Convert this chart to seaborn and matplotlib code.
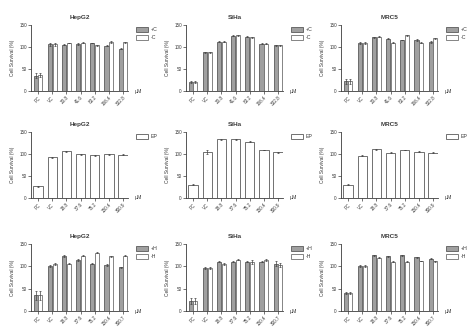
import numpy as np
import pandas as pd
import matplotlib
matplotlib.use("Agg")
import matplotlib.pyplot as plt
from matplotlib.patches import Patch
import seaborn as sns

# Dose labels (µM) for each row of panels
doses_c = ["PC", "VC", "20.8", "41.6", "83.2", "166.4", "332.8"]
doses_ep = ["PC", "VC", "18.8", "37.6", "75.2", "150.4", "300.9"]
doses_h = ["PC", "VC", "18.8", "37.6", "75.2", "150.4", "300.7"]

# Row 1: +C / -C
hepg2_pc = [35, 106, 105, 107, 109, 103, 96]
hepg2_mc = [36, 106, 109, 110, 104, 112, 111]
hepg2_pc_sd = [6, 3, 1, 2, 1, 1, 1]
hepg2_mc_sd = [5, 3, 1, 2, 1, 2, 1]
siha_pc = [20, 88, 112, 126, 123, 107, 104]
siha_mc = [20, 88, 112, 127, 122, 107, 104]
siha_pc_sd = [2, 1, 1, 1, 1, 1, 1]
siha_mc_sd = [2, 1, 1, 1, 1, 1, 1]
mrc5_pc = [22, 109, 122, 119, 116, 116, 112]
mrc5_mc = [22, 109, 123, 110, 127, 110, 120]
mrc5_pc_sd = [5, 2, 1, 1, 1, 2, 2]
mrc5_mc_sd = [5, 2, 1, 1, 1, 1, 1]

# Row 2: EP
hepg2_ep = [27, 93, 106, 99, 97, 99, 98]
hepg2_ep_sd = [1, 1, 1, 1, 1, 1, 1]
siha_ep = [30, 105, 133, 133, 128, 109, 104]
siha_ep_sd = [1, 5, 1, 1, 1, 1, 1]
mrc5_ep = [30, 96, 111, 103, 109, 105, 103]
mrc5_ep_sd = [1, 1, 1, 1, 1, 1, 1]

# Row 3: +H / -H
hepg2_ph = [35, 100, 124, 114, 106, 103, 98]
hepg2_mh = [35, 106, 106, 124, 130, 123, 124]
hepg2_ph_sd = [10, 2, 2, 2, 1, 2, 1]
hepg2_mh_sd = [10, 2, 1, 1, 1, 1, 1]
siha_ph = [22, 97, 110, 110, 110, 110, 106]
siha_mh = [22, 97, 106, 115, 110, 115, 103]
siha_ph_sd = [6, 2, 1, 1, 1, 1, 5]
siha_mh_sd = [6, 2, 2, 1, 4, 2, 4]
mrc5_ph = [40, 101, 125, 123, 125, 120, 117]
mrc5_mh = [40, 101, 119, 110, 110, 112, 111]
mrc5_ph_sd = [2, 3, 1, 1, 1, 1, 1]
mrc5_mh_sd = [2, 3, 1, 1, 1, 1, 1]

sns.set_style("ticks")
plt.rcParams["font.family"] = ["Liberation Sans", "DejaVu Sans"]

GRAY = "#a0a0a0"
WHITE = "#ffffff"
EDGE_DARK = "#5a5a5a"
EDGE_LIGHT = "#707070"
INK = "#3a3a3a"


def panel(ax, doses, series, sds, labels, colors, edges, title):
    rows = []
    for lab, vals in zip(labels, series):
        for d, v in zip(doses, vals):
            rows.append({"dose": d, "group": lab, "survival": v})
    df = pd.DataFrame(rows)
    sns.barplot(data=df, x="dose", y="survival", hue="group",
                order=doses, hue_order=labels,
                palette=dict(zip(labels, colors)),
                width=0.66, gap=0.12 if len(labels) > 1 else 0,
                errorbar=None, legend=False, ax=ax,
                linewidth=0.6)
    for cont, ec, vals, sd in zip(ax.containers, edges, series, sds):
        for bar, v, e in zip(cont, vals, sd):
            bar.set_edgecolor(ec)
            x = bar.get_x() + bar.get_width() / 2
            ax.errorbar(x, v, yerr=e, fmt="none", ecolor="#444444",
                        elinewidth=0.5, capsize=1.0, capthick=0.5, zorder=3)
    ax.set_ylim(0, 150)
    ax.set_xlim(-0.5, 6.35)
    ax.set_yticks([0, 50, 100, 150])
    ax.set_xlabel("")
    ax.set_ylabel("Cell Survival (%)", fontsize=3.5, color=INK, labelpad=3)
    ax.set_title(title, fontsize=4.6, color=INK, fontweight="bold", pad=4)
    ax.tick_params(axis="both", length=2, width=0.5, color=INK,
                   labelsize=3.3, labelcolor=INK, pad=1)
    plt.setp(ax.get_xticklabels(), rotation=45, ha="right",
             rotation_mode="anchor")
    for s in ("top", "right"):
        ax.spines[s].set_visible(False)
    for s in ("left", "bottom"):
        ax.spines[s].set_linewidth(0.6)
        ax.spines[s].set_color(INK)
    ax.text(1.07, 0.0, "µM", transform=ax.transAxes, fontsize=3.8,
            color=INK, va="center", ha="left")
    handles = [Patch(facecolor=c, edgecolor=e, linewidth=0.6, label=l)
               for c, e, l in zip(colors, edges, labels)]
    ax.legend(handles=handles, loc="upper left", bbox_to_anchor=(1.06, 1.0),
              frameon=False, fontsize=3.8, handlelength=2.2,
              handleheight=1.0, handletextpad=0.6, labelspacing=0.5,
              borderaxespad=0, labelcolor=INK)


fig = plt.figure(figsize=(4.74, 3.30), dpi=100)
W, H = 474, 330
lefts = [31, 186, 341]
tops = [25, 132, 244]
bottoms = [91, 198, 311]
aw = 97

panels = [
    [(doses_c, [hepg2_pc, hepg2_mc], [hepg2_pc_sd, hepg2_mc_sd], ["+C", "-C"], "HepG2"),
     (doses_c, [siha_pc, siha_mc], [siha_pc_sd, siha_mc_sd], ["+C", "-C"], "SiHa"),
     (doses_c, [mrc5_pc, mrc5_mc], [mrc5_pc_sd, mrc5_mc_sd], ["+C", "-C"], "MRC5")],
    [(doses_ep, [hepg2_ep], [hepg2_ep_sd], ["EP"], "HepG2"),
     (doses_ep, [siha_ep], [siha_ep_sd], ["EP"], "SiHa"),
     (doses_ep, [mrc5_ep], [mrc5_ep_sd], ["EP"], "MRC5")],
    [(doses_h, [hepg2_ph, hepg2_mh], [hepg2_ph_sd, hepg2_mh_sd], ["+H", "-H"], "HepG2"),
     (doses_h, [siha_ph, siha_mh], [siha_ph_sd, siha_mh_sd], ["+H", "-H"], "SiHa"),
     (doses_h, [mrc5_ph, mrc5_mh], [mrc5_ph_sd, mrc5_mh_sd], ["+H", "-H"], "MRC5")],
]

for r in range(3):
    for c in range(3):
        doses, series, sds, labels, title = panels[r][c]
        ax = fig.add_axes([lefts[c] / W, 1 - bottoms[r] / H, aw / W,
                           (bottoms[r] - tops[r]) / H])
        if len(labels) == 2:
            colors, edges = [GRAY, WHITE], [EDGE_DARK, EDGE_LIGHT]
        else:
            colors, edges = [WHITE], [EDGE_DARK]
        panel(ax, doses, series, sds, labels, colors, edges, title)

fig.savefig("out.png", dpi=100, facecolor="white")
